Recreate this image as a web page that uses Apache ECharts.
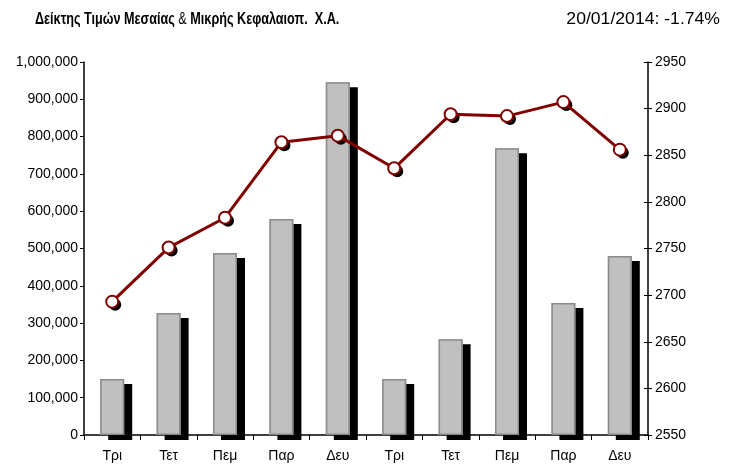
<!DOCTYPE html>
<html>
<head>
<meta charset="utf-8">
<script src="https://cdn.jsdelivr.net/npm/echarts@6/dist/echarts.min.js"></script>
<style>
  html, body { margin: 0; padding: 0; background: #fff; }
  #chart { width: 734px; height: 465px; }
</style>
</head>
<body>
<div id="chart"></div>
<script>
// Δεδομένα
const days = ["Τρι", "Τετ", "Πεμ", "Παρ", "Δευ", "Τρι", "Τετ", "Πεμ", "Παρ", "Δευ"];
const volume = [150000, 327000, 488000, 579000, 946000, 150000, 257000, 769000, 354000, 480000];
const indexValues = [2693, 2751, 2783, 2864, 2871, 2836, 2894, 2892, 2907, 2856];

const sans = "'Liberation Sans', Arial, sans-serif";

const chart = echarts.init(document.getElementById("chart"), null, { renderer: "canvas" });

const option = {
  animation: false,
  backgroundColor: "#fff",
  // Τίτλοι (στενή γραμματοσειρά με scaleX)
  graphic: [
    {
      type: "text",
      x: 35,
      y: 20,
      scaleX: 0.79,
      style: {
        text: "{b|Δείκτης Τιμών Μεσαίας }{n|&}{b| Μικρής Κεφαλαιοπ.  Χ.Α.}",
        verticalAlign: "middle",
        rich: {
          b: { fontFamily: sans, fontSize: 16, fontWeight: "bold", fill: "#000" },
          n: { fontFamily: sans, fontSize: 16, fill: "#000" },
        },
      },
    },
    {
      type: "text",
      x: 720,
      y: 20,
      scaleX: 1.1,
      style: {
        text: "20/01/2014: -1.74%",
        align: "right",
        verticalAlign: "middle",
        fontFamily: sans,
        fontSize: 16,
        fill: "#000",
      },
    },
  ],
  grid: { left: 84, right: 86, top: 62, bottom: 30, containLabel: false },
  xAxis: {
    type: "category",
    data: days,
    boundaryGap: true,
    axisLine: { lineStyle: { color: "#000", width: 1.5 } },
    axisTick: { show: true, length: 5, lineStyle: { color: "#000" } },
    axisLabel: { color: "#000", fontFamily: sans, fontSize: 14, margin: 14 },
  },
  yAxis: [
    {
      type: "value",
      position: "left",
      min: 0,
      max: 1000000,
      interval: 100000,
      splitLine: { show: false },
      axisLine: { show: true, lineStyle: { color: "#000", width: 1.5 } },
      axisTick: { show: true, length: 4, lineStyle: { color: "#000" } },
      axisLabel: {
        color: "#000",
        fontFamily: sans,
        fontSize: 14,
        margin: 6,
        formatter: (v) => v.toLocaleString("en-US"),
      },
    },
    {
      type: "value",
      position: "right",
      min: 2550,
      max: 2950,
      interval: 50,
      splitLine: { show: false },
      axisLine: { show: true, lineStyle: { color: "#000", width: 1.5 } },
      axisTick: { show: true, length: 4, lineStyle: { color: "#000" } },
      axisLabel: { color: "#000", fontFamily: sans, fontSize: 14, margin: 7, formatter: (v) => String(v) },
    },
    {
      // εσωτερικά tick για τον δεξί άξονα
      type: "value",
      position: "right",
      min: 2550,
      max: 2950,
      interval: 50,
      splitLine: { show: false },
      axisLine: { show: false },
      axisTick: { show: true, inside: true, length: 4, lineStyle: { color: "#000" } },
      axisLabel: { show: false },
    },
  ],
  series: [
    // μπάρες με σκιά (χωρίς περίγραμμα)
    {
      type: "bar",
      yAxisIndex: 0,
      data: volume,
      barWidth: 24,
      itemStyle: {
        color: "#c0c0c0",
        shadowColor: "#000",
        shadowBlur: 0,
        shadowOffsetX: 8,
        shadowOffsetY: 5,
      },
      z: 2,
    },
    // περίγραμμα μπαρών
    {
      type: "bar",
      yAxisIndex: 0,
      data: volume,
      barWidth: 24,
      barGap: "-100%",
      itemStyle: { color: "rgba(0,0,0,0)", borderColor: "#8a8a8a", borderWidth: 1.5 },
      z: 3,
    },
    // σκιά δεικτών
    {
      type: "line",
      yAxisIndex: 1,
      data: indexValues,
      symbol: "circle",
      symbolSize: 12,
      symbolOffset: [3, 3],
      showAllSymbol: true,
      lineStyle: { opacity: 0 },
      itemStyle: { color: "#000", borderWidth: 0 },
      z: 4,
    },
    {
      type: "line",
      yAxisIndex: 1,
      data: indexValues,
      symbol: "circle",
      symbolSize: 12,
      showAllSymbol: true,
      lineStyle: { color: "#800000", width: 3 },
      itemStyle: { color: "#fff", borderColor: "#800000", borderWidth: 2 },
      z: 5,
    },
  ],
};

chart.setOption(option);
</script>
</body>
</html>
